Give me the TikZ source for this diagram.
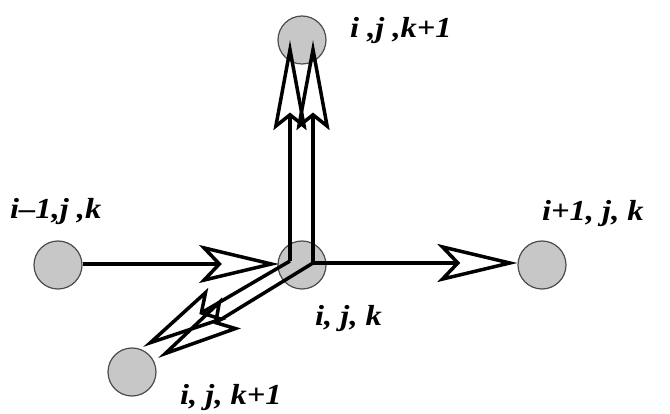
\documentclass[tikz,border=0pt]{standalone}
\usepackage{fontspec}
\usepackage{graphicx}
\setmainfont{Liberation Serif}
\usetikzlibrary{arrows.meta}
\newcommand{\lbltext}[1]{\scalebox{1.12}[1]{#1}}
\begin{document}
\begin{tikzpicture}[x=1pt,y=-1pt,
  site/.style={circle,draw=black!70,line width=1.2pt,fill=black!22,minimum size=48pt,inner sep=0pt},
  harrow/.style={line width=3.5pt,-{Stealth[open,length=80pt,width=38pt,inset=18pt]}},
  varrow/.style={line width=3.5pt,-{Stealth[open,length=90pt,width=33pt,inset=13pt]}},
  darrow/.style={line width=3.5pt,-{Stealth[open,length=86pt,width=36pt,inset=16pt]}},
  lbl/.style={font=\fontsize{29}{29}\selectfont\bfseries\itshape,anchor=base west,inner sep=0pt}]
\useasboundingbox (0,0) rectangle (670,414);
% sites
\node[site] (T) at (302,40) {};
\node[site] (L) at (58,265) {};
\node[site] (C) at (302,265) {};
\node[site] (R) at (542,265) {};
\node[site] (B) at (132,372) {};
% junction points and tips
\coordinate (cL) at (290,261);
\coordinate (cR) at (313,263);
\coordinate (tH) at (279,264);
\coordinate (tV1) at (290,40);
\coordinate (tV2) at (313,40);
\coordinate (tD1) at (143,347);
\coordinate (tD2) at (158,358);
% connectors
\draw[harrow] (L.east |- tH) -- (tH);
\draw[harrow] (cR) -- (R.west |- cR);
\draw[varrow] (cL) -- (tV1);
\draw[varrow] (cR) -- (tV2);
\draw[darrow] (cL) -- (tD1);
\draw[darrow] (cR) -- (tD2);
% labels
\node[lbl] (lT) at (350,38) {\lbltext{i ,j ,k+1}};
\node[lbl] (lL) at (10,219) {\lbltext{i–1,j ,k}};
\node[lbl] (lR) at (542,221) {\lbltext{i+1, j, k}};
\node[lbl] (lC) at (315,326) {\lbltext{i, j, k}};
\node[lbl] (lB) at (180,404) {\lbltext{i, j, k+1}};
\end{tikzpicture}
\end{document}
